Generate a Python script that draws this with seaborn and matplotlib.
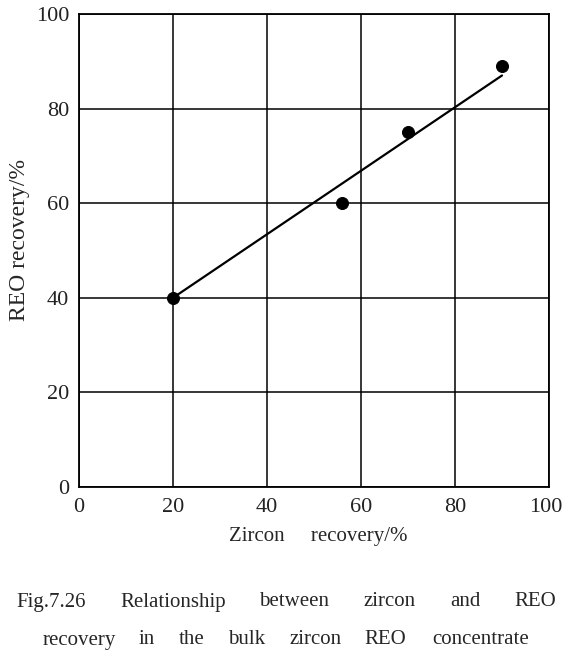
import numpy as np
import pandas as pd
import seaborn as sns
from matplotlib import pyplot as plt
from matplotlib.transforms import ScaledTranslation

zircon = [20, 56, 70, 90]
reo = [40, 60, 75, 89]
fit_x = [20, 90]
fit_y = [40, 87]
ticks = [0, 20, 40, 60, 80, 100]

caption1 = ['Fig.7.26', 'Relationship', 'between', 'zircon', 'and', 'REO']
caption1_x = [16, 120, 259, 363, 450, 514]
caption2 = ['recovery', 'in', 'the', 'bulk', 'zircon', 'REO', 'concentrate']
caption2_x = [43, 139, 179, 228, 289, 364, 432]

sns.set_style("whitegrid", {'axes.grid': True, 'grid.color': 'black', 'axes.edgecolor': 'black'})
plt.rcParams['font.family'] = ['Liberation Serif', 'DejaVu Serif']

fig = plt.figure(figsize=(5.64, 6.51), dpi=100)
W, H = 564, 651
ax = fig.add_axes([79 / W, 1 - 487 / H, 470 / W, 473 / H])

df = pd.DataFrame({'zircon': zircon, 'reo': reo})
fit = pd.DataFrame({'x': fit_x, 'y': fit_y})
sns.lineplot(data=fit, x='x', y='y', color='black', linewidth=1.6, ax=ax)
sns.scatterplot(data=df, x='zircon', y='reo', color='black', s=75, edgecolor='black', zorder=5, ax=ax)

ax.set_xlim(0, 100)
ax.set_ylim(0, 100)
ax.set_xticks(ticks)
ax.set_yticks(ticks)
ax.grid(True, color='black', linewidth=1.1)
ax.tick_params(length=0, labelsize=16, colors='#222222')
ax.tick_params(axis='x', pad=8)
ax.tick_params(axis='y', pad=7)
for s in ax.spines.values():
    s.set_color('black')
    s.set_linewidth(1.3)
ax.set_xlabel('')
ax.set_ylabel('')

# keep the last x label inside the picture
last = ax.get_xticklabels()[-1]
last.set_transform(last.get_transform() + ScaledTranslation(-3 / 100, 0, fig.dpi_scale_trans))

fig.text(318 / W, 1 - 536 / H, 'Zircon     recovery/%', ha='center', va='center', fontsize=15)
fig.text(20 / W, 1 - 240 / H, 'REO recovery/%', rotation=90, ha='center', va='center', fontsize=17)

for w, x in zip(caption1, caption1_x):
    fig.text(x / W, 1 - 602 / H, w, ha='left', va='center', fontsize=15)
for w, x in zip(caption2, caption2_x):
    fig.text(x / W, 1 - 640 / H, w, ha='left', va='center', fontsize=15)

plt.savefig('out.png', dpi=100)
plt.close()
